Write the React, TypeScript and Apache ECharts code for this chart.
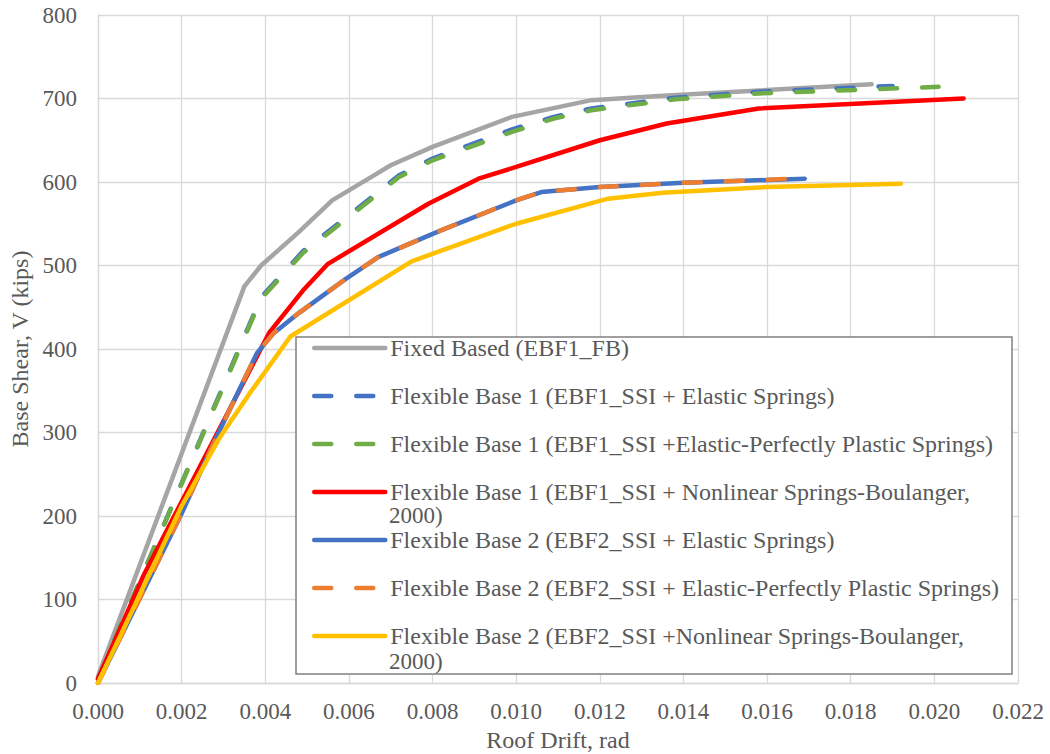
import React, { useEffect, useRef } from "react";
import * as echarts from "echarts";

const xTicks = { min: 0, max: 0.022, interval: 0.002 };
const yTicks = { min: 0, max: 800, interval: 100 };

const fixedBase: number[][] = [[0, 8], [0.0035, 475], [0.0039, 500], [0.0048, 540], [0.0056, 578], [0.0066, 608], [0.007, 620], [0.008, 642], [0.0099, 678], [0.0118, 698], [0.0134, 703], [0.0185, 717]];
const fb1Elastic: number[][] = [[0, 5], [0.0039, 462], [0.0049, 517], [0.0063, 572], [0.0072, 608], [0.008, 628], [0.0099, 663], [0.0109, 678], [0.0118, 688], [0.0138, 701], [0.0158, 708], [0.019, 715]];
const fb1EPP: number[][] = [[0, 5], [0.0039, 460], [0.0049, 515], [0.0063, 570], [0.0072, 606], [0.008, 626], [0.0099, 660], [0.0109, 676], [0.0118, 686], [0.0138, 699], [0.0158, 706], [0.0201, 714]];
const fb1Nonlinear: number[][] = [[0, 5], [0.0011, 130], [0.0041, 420], [0.0049, 470], [0.0055, 502], [0.0079, 574], [0.0091, 604], [0.01, 618], [0.012, 650], [0.0136, 670], [0.0158, 688], [0.0207, 700]];
const fb2Elastic: number[][] = [[0, 0], [0.002, 203], [0.0028, 291], [0.0033, 343], [0.0038, 395], [0.0042, 419], [0.0048, 443], [0.0059, 483], [0.0067, 510], [0.0082, 542], [0.01, 578], [0.0106, 588], [0.012, 594], [0.014, 599], [0.0169, 604]];
const fb2EPP: number[][] = [[0, 0], [0.002, 203], [0.0028, 291], [0.0033, 343], [0.0038, 395], [0.0042, 419], [0.0048, 443], [0.0059, 483], [0.0067, 510], [0.0082, 542], [0.01, 578], [0.0106, 588], [0.012, 594], [0.014, 599], [0.0167, 604]];
const fb2Nonlinear: number[][] = [[0, 0], [0.002, 212], [0.0029, 293], [0.0036, 345], [0.0046, 415], [0.0075, 505], [0.01, 550], [0.0122, 580], [0.0135, 587], [0.016, 594], [0.0192, 598]];

const seriesNames = [
  "Fixed Based (EBF1_FB)",
  "Flexible Base 1 (EBF1_SSI + Elastic Springs)",
  "Flexible Base 1 (EBF1_SSI +Elastic-Perfectly Plastic Springs)",
  "Flexible Base 1 (EBF1_SSI + Nonlinear Springs-Boulanger, 2000)",
  "Flexible Base 2 (EBF2_SSI + Elastic Springs)",
  "Flexible Base 2 (EBF2_SSI + Elastic-Perfectly Plastic Springs)",
  "Flexible Base 2 (EBF2_SSI +Nonlinear Springs-Boulanger, 2000)",
];
const seriesData = [fixedBase, fb1Elastic, fb1EPP, fb1Nonlinear, fb2Elastic, fb2EPP, fb2Nonlinear];
const seriesColors = ["#A5A5A5", "#4472C4", "#70AD47", "#FF0000", "#4472C4", "#ED7D31", "#FFC000"];
const seriesDashed = [false, true, true, false, false, true, false];

const FONT = "'Liberation Serif', 'Times New Roman', serif";
const TXT = "#595959";

export default function App() {
  const ref = useRef<HTMLDivElement>(null);
  useEffect(() => {
    if (!ref.current) return;
    const chart = echarts.init(ref.current, undefined, { renderer: "svg" });
    const series = seriesNames.map((name, i) => ({
      name,
      type: "line",
      data: seriesData[i],
      showSymbol: false,
      symbol: "none",
      legendIcon: "none",
      lineStyle: {
        color: seriesColors[i],
        width: 4.5,
        type: seriesDashed[i] ? [17, 25] : "solid",
        cap: "round",
        join: "round",
      },
      itemStyle: { color: seriesColors[i], opacity: 0 },
      z: 2,
    }));
    chart.setOption({
      animation: false,
      backgroundColor: "#ffffff",
      textStyle: { fontFamily: FONT },
      grid: { left: 98, top: 15, right: 32, bottom: 71, containLabel: false, outerBoundsMode: "none" },
      xAxis: {
        type: "value",
        min: xTicks.min,
        max: xTicks.max,
        interval: xTicks.interval,
        name: "Roof Drift, rad",
        nameLocation: "middle",
        nameGap: 45,
        nameTextStyle: { fontSize: 24, color: TXT, fontFamily: FONT },
        axisLine: { show: true, lineStyle: { color: "#d9d9d9", width: 1.3 } },
        axisTick: { show: false },
        axisLabel: { fontSize: 23, color: TXT, fontFamily: FONT, margin: 17, formatter: (v: number) => v.toFixed(3) },
        splitLine: { show: true, lineStyle: { color: "#d9d9d9", width: 1.3 } },
      },
      yAxis: {
        type: "value",
        min: yTicks.min,
        max: yTicks.max,
        interval: yTicks.interval,
        name: "Base Shear, V (kips)",
        nameLocation: "middle",
        nameGap: 64,
        nameTextStyle: { fontSize: 24, color: TXT, fontFamily: FONT },
        axisLine: { show: true, lineStyle: { color: "#d9d9d9", width: 1.3 } },
        axisTick: { show: false },
        axisLabel: { fontSize: 23, color: TXT, fontFamily: FONT, margin: 21 },
        splitLine: { show: true, lineStyle: { color: "#d9d9d9", width: 1.3 } },
      },
      legend: {
        orient: "vertical",
        left: 312,
        top: 336,
        padding: 0,
        itemGap: 24,
        itemWidth: 71,
        itemHeight: 14,
        selectedMode: false,
        data: seriesNames,
        itemStyle: { opacity: 0 },
        lineStyle: { width: 4.5, cap: "round" },
        formatter: (name: string) => name.replace(/ 2000\)$/, ""),
        textStyle: { fontSize: 24, color: TXT, fontFamily: FONT, lineHeight: 22 },
        z: 6,
      },
      graphic: [
        {
          type: "rect",
          z: 4,
          shape: { x: 296, y: 337, width: 716, height: 337 },
          style: { fill: "#ffffff", stroke: "#808080", lineWidth: 1.5 },
        },
        {
          type: "text",
          z: 7,
          x: 389,
          y: 515,
          style: { text: "2000)", fontSize: 23, fill: TXT, fontFamily: FONT, verticalAlign: "middle", align: "left" },
        },
        {
          type: "text",
          z: 7,
          x: 389,
          y: 661,
          style: { text: "2000)", fontSize: 23, fill: TXT, fontFamily: FONT, verticalAlign: "middle", align: "left" },
        },
      ],
      series,
    });
    return () => chart.dispose();
  }, []);
  return <div ref={ref} style={{ position: "fixed", left: 0, top: 0, width: 1050, height: 754 }} />;
}
